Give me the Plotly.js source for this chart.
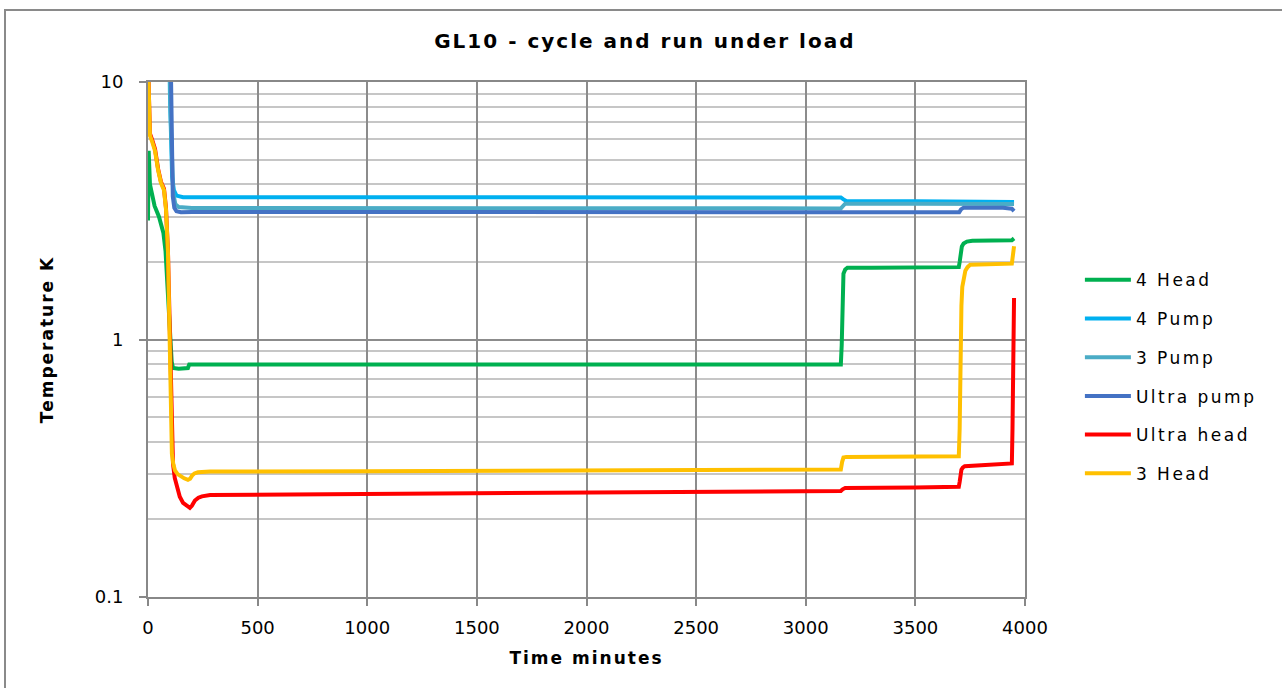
<!DOCTYPE html>
<html>
<head>
<meta charset="utf-8">
<script src="https://cdn.plot.ly/plotly-3.0.1.min.js"></script>
<style>
  html, body { margin: 0; padding: 0; background: #fff; overflow: hidden; }
  #chart { width: 1282px; height: 688px; position: absolute; left: 0; top: 0; }
  #frame { position: absolute; left: 4px; top: 9px; width: 1300px; height: 700px; border: 2px solid #8a8a8a; pointer-events: none; }
  .legendtext { letter-spacing: 2.5px; }
  .gtitle { letter-spacing: 2px; }
  .xtitle, .ytitle { letter-spacing: 2px; }
</style>
</head>
<body>
<div id="chart"></div>
<div id="frame"></div>
<script>
// ---- data (time in minutes, temperature in K) ----
const seriesNames = ["4 Head", "4 Pump", "3 Pump", "Ultra pump", "Ultra head", "3 Head"];

const head4T = [0, 3, 9, 18, 30, 50, 70, 80, 87, 95, 100, 108, 114, 140, 182, 188, 200, 1000, 2000, 3160, 3164, 3168, 3172, 3180, 3190, 3300, 3698, 3702, 3706, 3712, 3720, 3735, 3760, 3940, 3950];
const head4V = [2.9, 5.4, 4.0, 3.6, 3.3, 3.0, 2.6, 2.2, 1.66, 1.2, 0.97, 0.82, 0.775, 0.77, 0.775, 0.80, 0.80, 0.80, 0.80, 0.80, 0.95, 1.5, 1.8, 1.87, 1.90, 1.90, 1.91, 2.0, 2.2, 2.3, 2.36, 2.40, 2.42, 2.43, 2.47];

const pump4T = [0, 95, 100, 105, 110, 118, 130, 160, 1000, 2000, 3160, 3172, 3185, 3500, 3950];
const pump4V = [20, 20, 9, 5.5, 4.3, 3.8, 3.62, 3.57, 3.57, 3.56, 3.56, 3.5, 3.45, 3.44, 3.42];

const pump3T = [0, 97, 102, 108, 115, 125, 140, 200, 1000, 2000, 3160, 3170, 3180, 3500, 3950];
const pump3V = [20, 20, 8, 5, 3.7, 3.35, 3.27, 3.24, 3.24, 3.23, 3.23, 3.3, 3.37, 3.37, 3.36];

const ultraPumpT = [0, 4, 100, 104, 108, 113, 120, 130, 150, 200, 1000, 2000, 3000, 3700, 3708, 3720, 3900, 3940, 3950];
const ultraPumpV = [7, 20, 20, 9, 5, 3.6, 3.25, 3.15, 3.12, 3.13, 3.13, 3.12, 3.12, 3.12, 3.2, 3.25, 3.25, 3.22, 3.15];

const ultraHeadT = [0, 5, 9, 18, 32, 46, 59, 73, 82, 91, 100, 105, 109, 114, 122, 132, 145, 160, 175, 191, 200, 214, 230, 246, 283, 1000, 2000, 3000, 3160, 3168, 3180, 3500, 3698, 3702, 3706, 3710, 3716, 3725, 3800, 3920, 3940, 3943, 3946, 3950];
const ultraHeadV = [12, 9, 6.3, 6.0, 5.5, 4.6, 4.1, 3.85, 3.25, 2.2, 1.0, 0.49, 0.36, 0.33, 0.29, 0.266, 0.245, 0.232, 0.226, 0.222, 0.226, 0.237, 0.243, 0.246, 0.249, 0.251, 0.254, 0.257, 0.258, 0.262, 0.265, 0.266, 0.268, 0.28, 0.3, 0.312, 0.318, 0.322, 0.325, 0.328, 0.33, 0.45, 1.0, 1.45];

const head3T = [0, 5, 9, 18, 32, 46, 59, 73, 82, 91, 100, 105, 109, 115, 123, 135, 146, 165, 182, 192, 201, 212, 228, 283, 1000, 2000, 3160, 3166, 3172, 3185, 3500, 3698, 3702, 3706, 3710, 3714, 3720, 3728, 3738, 3750, 3940, 3944, 3950];
const head3V = [12, 9, 6.2, 5.9, 5.4, 4.55, 4.06, 3.8, 3.2, 2.2, 1.0, 0.49, 0.36, 0.33, 0.31, 0.30, 0.295, 0.289, 0.285, 0.288, 0.296, 0.302, 0.305, 0.307, 0.308, 0.31, 0.313, 0.335, 0.348, 0.35, 0.351, 0.352, 0.45, 0.9, 1.35, 1.6, 1.75, 1.85, 1.91, 1.95, 1.97, 2.1, 2.3];

const xTickVals = [0, 500, 1000, 1500, 2000, 2500, 3000, 3500, 4000];
const yTickVals = [0.1, 1, 10];
const yTickText = ["0.1", "1", "10"];
const yMinorVals = [0.2, 0.3, 0.4, 0.5, 0.6, 0.7, 0.8, 0.9, 2, 3, 4, 5, 6, 7, 8, 9];

const colors = ["#00B050", "#00B0F0", "#4BACC6", "#4472C4", "#FF0000", "#FFC000"];
const xs = [head4T, pump4T, pump3T, ultraPumpT, ultraHeadT, head3T];
const ys = [head4V, pump4V, pump3V, ultraPumpV, ultraHeadV, head3V];

const traces = seriesNames.map((n, i) => ({
  type: "scatter",
  mode: "lines",
  name: n,
  x: xs[i],
  y: ys[i],
  legendgroup: "g" + i,
  line: { color: colors[i], width: 4, shape: "linear" }
}));

const font = "DejaVu Sans, Verdana, sans-serif";

const layout = {
  width: 1282,
  height: 688,
  paper_bgcolor: "#ffffff",
  plot_bgcolor: "#ffffff",
  margin: { l: 148, r: 257, t: 82, b: 91 },
  title: {
    text: "<b>GL10 - cycle and run under load</b>",
    font: { family: font, size: 20, color: "#000" },
    xref: "container", x: 0.503, xanchor: "center",
    yref: "container", y: 1 - 41 / 688, yanchor: "middle"
  },
  xaxis: {
    range: [0, 4000],
    tickmode: "array",
    tickvals: xTickVals,
    ticks: "outside", ticklen: 7, tickwidth: 2, tickcolor: "#888",
    ticklabelstandoff: 6,
    showline: true, linecolor: "#888", linewidth: 2, mirror: true,
    showgrid: true, gridcolor: "#8c8c8c", gridwidth: 2,
    zeroline: false,
    tickfont: { family: font, size: 18, color: "#000" },
    title: { text: "<b>Time minutes</b>", font: { family: font, size: 17, color: "#000" }, standoff: 16 }
  },
  yaxis: {
    type: "log",
    range: [-1, 1],
    tickmode: "array",
    tickvals: yTickVals,
    ticktext: yTickText,
    ticks: "outside", ticklen: 7, tickwidth: 2, tickcolor: "#888",
    ticklabelstandoff: 12,
    showline: true, linecolor: "#888", linewidth: 2, mirror: true,
    showgrid: true, gridcolor: "#8c8c8c", gridwidth: 2,
    zeroline: false,
    tickfont: { family: font, size: 18, color: "#000" },
    minor: { tickmode: "array", tickvals: yMinorVals, showgrid: true, gridcolor: "#c6c6c6", gridwidth: 2, ticklen: 0 },
    title: { text: "<b>Temperature K</b>", font: { family: font, size: 17, color: "#000" }, standoff: 37 }
  },
  showlegend: true,
  legend: {
    x: 1.0626, xanchor: "left",
    y: 0.65, yanchor: "top",
    font: { family: font, size: 17, color: "#000" },
    itemwidth: 46,
    tracegroupgap: 13.6,
    bgcolor: "rgba(0,0,0,0)",
    borderwidth: 0
  }
};

Plotly.newPlot("chart", traces, layout, { staticPlot: true, displayModeBar: false });
</script>
</body>
</html>
